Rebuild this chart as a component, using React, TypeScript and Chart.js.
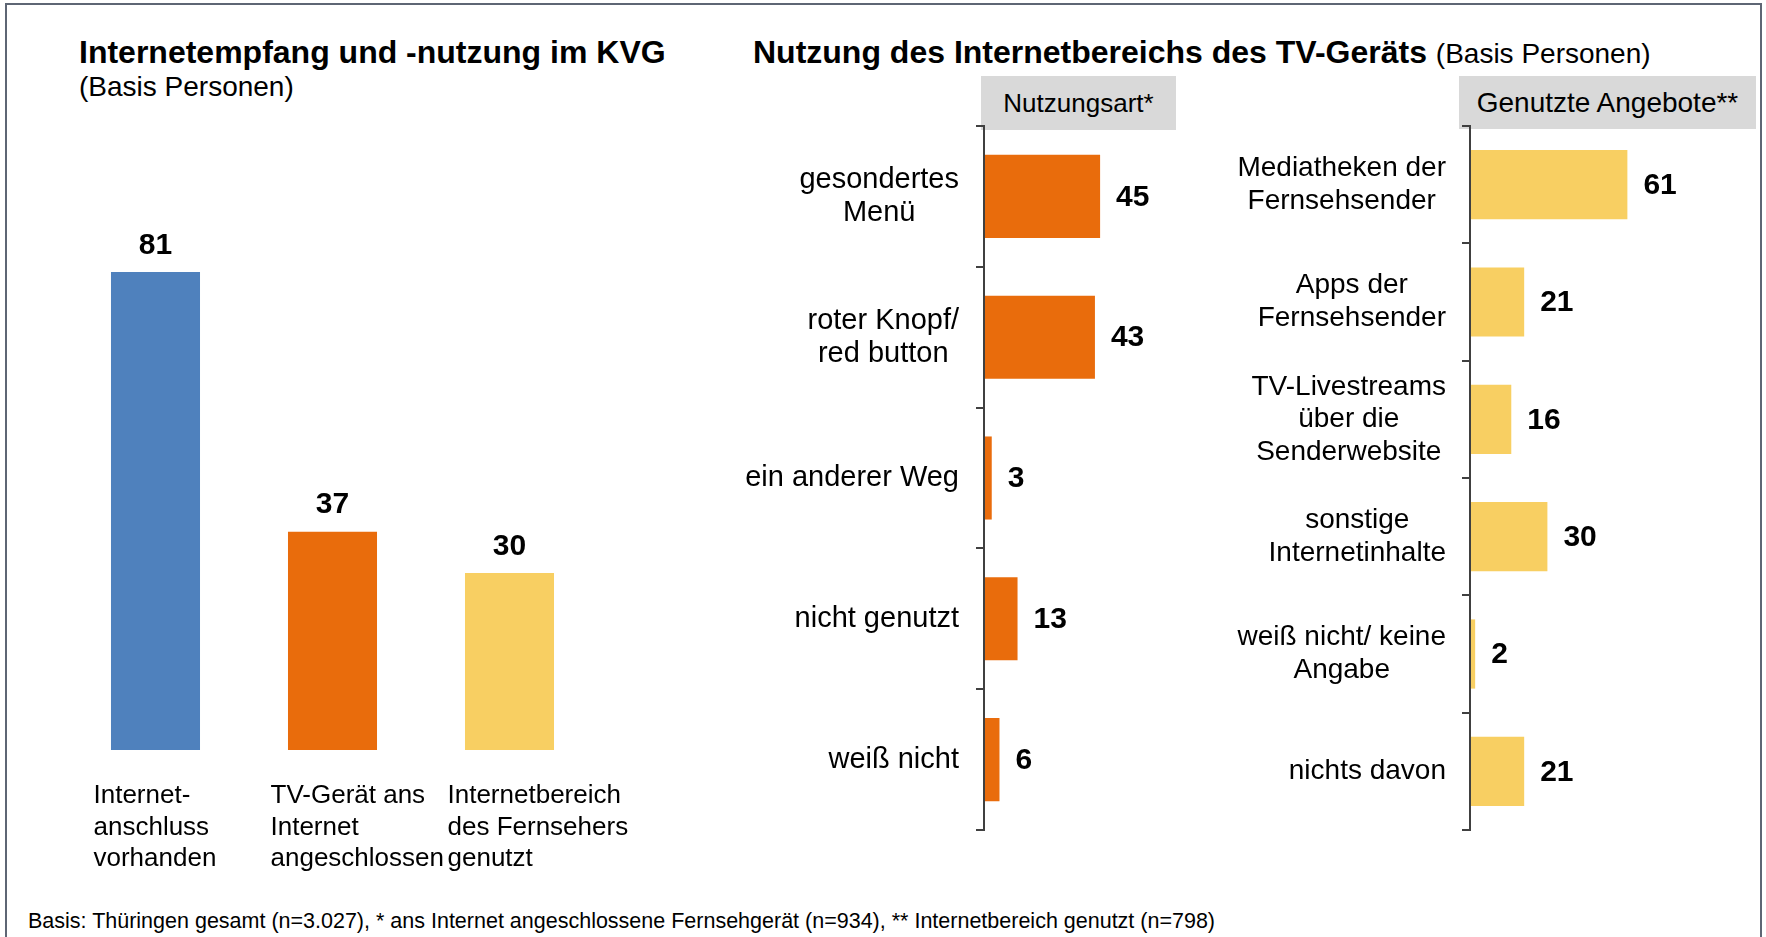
import React, { useEffect, useRef } from "react";
import { Chart, registerables } from "chart.js";

Chart.register(...registerables);

const FONT = "'Liberation Sans', Arial, Helvetica, sans-serif";

// ---- Data ----
const overviewCategories: string[][] = [
  ["Internet-", "anschluss", "vorhanden"],
  ["TV-Gerät ans", "Internet", "angeschlossen"],
  ["Internetbereich", "des Fernsehers", "genutzt"],
];
const overviewValues: number[] = [81, 37, 30];
const overviewColors: string[] = ["#4F81BD", "#E96C0C", "#F8CF62"];

const usageCategories: string[][] = [
  ["gesondertes", "Menü"],
  ["roter Knopf/", "red button"],
  ["ein anderer Weg"],
  ["nicht genutzt"],
  ["weiß nicht"],
];
const usageValues: number[] = [45, 43, 3, 13, 6];

const offerCategories: string[][] = [
  ["Mediatheken der", "Fernsehsender"],
  ["Apps der", "Fernsehsender"],
  ["TV-Livestreams", "über die", "Senderwebsite"],
  ["sonstige", "Internetinhalte"],
  ["weiß nicht/ keine", "Angabe"],
  ["nichts davon"],
];
const offerValues: number[] = [61, 21, 16, 30, 2, 21];

const ORANGE = "#E96C0C";
const YELLOW = "#F8CF62";
const AXIS = "#404040";

// ---- Plugins ----
function hValueLabels(fontSize: number, gap: number) {
  return {
    id: "hValueLabels",
    afterDatasetsDraw(chart: any) {
      const ctx = chart.ctx;
      const meta = chart.getDatasetMeta(0);
      const data = chart.data.datasets[0].data;
      ctx.save();
      ctx.font = `bold ${fontSize}px ${FONT}`;
      ctx.fillStyle = "#000";
      ctx.textAlign = "left";
      ctx.textBaseline = "middle";
      meta.data.forEach((bar: any, i: number) => {
        ctx.fillText(String(data[i]), bar.x + gap, bar.y + 1);
      });
      ctx.restore();
    },
  };
}

function hCategoryLabels(fontSize: number, lineHeight: number, gap: number) {
  return {
    id: "hCategoryLabels",
    afterDraw(chart: any) {
      const ctx = chart.ctx;
      const yScale = chart.scales.y;
      const left = chart.chartArea.left;
      ctx.save();
      ctx.font = `${fontSize}px ${FONT}`;
      ctx.fillStyle = "#000";
      ctx.textAlign = "center";
      ctx.textBaseline = "middle";
      (chart.data.labels as string[][]).forEach((lines, i) => {
        const w = Math.max(...lines.map((l) => ctx.measureText(l).width));
        const cx = left - gap - w / 2;
        const cy = yScale.getPixelForValue(i);
        lines.forEach((ln, j) => {
          ctx.fillText(ln, cx, cy + (j - (lines.length - 1) / 2) * lineHeight);
        });
      });
      ctx.restore();
    },
  };
}

const vLabels = {
  id: "vLabels",
  afterDatasetsDraw(chart: any) {
    const ctx = chart.ctx;
    const meta = chart.getDatasetMeta(0);
    const data = chart.data.datasets[0].data;
    const bottom = chart.chartArea.bottom;
    ctx.save();
    ctx.fillStyle = "#000";
    // value labels
    ctx.font = `bold 30px ${FONT}`;
    ctx.textAlign = "center";
    ctx.textBaseline = "alphabetic";
    meta.data.forEach((bar: any, i: number) => {
      ctx.fillText(String(data[i]), bar.x, bar.y - 18.5);
    });
    // category labels
    ctx.font = `26px ${FONT}`;
    ctx.textAlign = "left";
    (chart.data.labels as string[][]).forEach((lines, i) => {
      const bar = meta.data[i];
      lines.forEach((ln, j) => {
        ctx.fillText(ln, bar.x - 62, bottom + 53 + j * 31.5);
      });
    });
    ctx.restore();
  },
};

function hBarConfig(labels: string[][], values: number[], color: string, padding: any, plugins: any[]) {
  return {
    type: "bar" as const,
    data: {
      labels,
      datasets: [
        {
          data: values,
          backgroundColor: color,
          borderWidth: 0,
          barPercentage: 0.59,
          categoryPercentage: 1,
        },
      ],
    },
    options: {
      indexAxis: "y" as const,
      animation: false as const,
      responsive: false,
      events: [],
      layout: { padding },
      plugins: {
        legend: { display: false },
        tooltip: { enabled: false },
        title: { display: false },
      },
      scales: {
        x: { display: false, min: 0, max: 100 },
        y: {
          display: true,
          grid: {
            display: true,
            drawOnChartArea: false,
            drawTicks: true,
            tickLength: 8,
            color: AXIS,
            lineWidth: 2,
            offset: true,
          },
          border: { display: true, color: AXIS, width: 2, z: 1 },
          ticks: { display: false },
        },
      },
    },
    plugins,
  };
}

export default function App() {
  const leftRef = useRef<HTMLCanvasElement>(null);
  const midRef = useRef<HTMLCanvasElement>(null);
  const rightRef = useRef<HTMLCanvasElement>(null);

  useEffect(() => {
    Chart.defaults.font.family = FONT;
    const charts: Chart[] = [];

    if (leftRef.current) {
      charts.push(
        new Chart(leftRef.current, {
          type: "bar",
          data: {
            labels: overviewCategories,
            datasets: [
              {
                data: overviewValues,
                backgroundColor: overviewColors,
                borderWidth: 0,
                barPercentage: 0.503,
                categoryPercentage: 1,
              },
            ],
          },
          options: {
            animation: false,
            responsive: false,
            events: [],
            layout: { padding: { left: 27, right: 62, top: 10, bottom: 140 } },
            plugins: {
              legend: { display: false },
              tooltip: { enabled: false },
              title: { display: false },
            },
            scales: {
              x: { display: false },
              y: { display: false, min: 0, max: 100 },
            },
          },
          plugins: [vLabels],
        } as any)
      );
    }

    if (midRef.current) {
      charts.push(
        new Chart(
          midRef.current,
          hBarConfig(
            usageCategories,
            usageValues,
            ORANGE,
            { left: 276, top: 26, bottom: 30, right: 18 },
            [hValueLabels(30, 16), hCategoryLabels(29, 33.3, 25)]
          ) as any
        )
      );
    }

    if (rightRef.current) {
      charts.push(
        new Chart(
          rightRef.current,
          hBarConfig(
            offerCategories,
            offerValues,
            YELLOW,
            { left: 262, top: 26, bottom: 30, right: 32 },
            [hValueLabels(30, 16), hCategoryLabels(28, 32.5, 24)]
          ) as any
        )
      );
    }

    return () => {
      charts.forEach((c) => c.destroy());
    };
  }, []);

  const abs = (left: number, top: number): React.CSSProperties => ({
    position: "absolute",
    left,
    top,
    whiteSpace: "nowrap",
    fontFamily: FONT,
    color: "#000",
  });

  return (
    <div
      style={{
        position: "absolute",
        left: 0,
        top: 0,
        width: 1766,
        height: 937,
        overflow: "hidden",
        background: "#fff",
        fontFamily: FONT,
      }}
    >
      {/* frame */}
      <div
        style={{
          position: "absolute",
          left: 5,
          top: 3,
          width: 1753,
          height: 960,
          border: "2px solid #5E6674",
          boxSizing: "content-box",
        }}
      />

      {/* Left heading */}
      <div style={{ ...abs(79, 36), fontSize: 32, lineHeight: "32px", fontWeight: "bold" }}>
        Internetempfang und -nutzung im KVG
      </div>
      <div style={{ ...abs(79, 73), fontSize: 28, lineHeight: "28px" }}>(Basis Personen)</div>

      {/* Right heading */}
      <div style={{ ...abs(753, 36), fontSize: 32, lineHeight: "32px" }}>
        <span style={{ fontWeight: "bold" }}>Nutzung des Internetbereichs des TV-Geräts</span>{" "}
        <span style={{ fontSize: 28 }}>(Basis Personen)</span>
      </div>

      {/* Gray header boxes */}
      <div
        style={{
          ...abs(981, 76),
          width: 195,
          height: 54,
          background: "#D9D9D9",
          fontSize: 26,
          lineHeight: "54px",
          textAlign: "center",
        }}
      >
        Nutzungsart*
      </div>
      <div
        style={{
          ...abs(1459, 76),
          width: 297,
          height: 53,
          background: "#D9D9D9",
          fontSize: 28,
          lineHeight: "53px",
          textAlign: "center",
        }}
      >
        Genutzte Angebote**
      </div>

      {/* Charts */}
      <canvas ref={leftRef} width={620} height={740} style={{ position: "absolute", left: 40, top: 150 }} />
      <canvas ref={midRef} width={560} height={760} style={{ position: "absolute", left: 700, top: 100 }} />
      <canvas ref={rightRef} width={560} height={760} style={{ position: "absolute", left: 1200, top: 100 }} />

      {/* Footer */}
      <div style={{ ...abs(28, 911), fontSize: 21.5, lineHeight: "21.5px" }}>
        Basis: Thüringen gesamt (n=3.027), * ans Internet angeschlossene Fernsehgerät (n=934), ** Internetbereich genutzt (n=798)
      </div>
    </div>
  );
}
